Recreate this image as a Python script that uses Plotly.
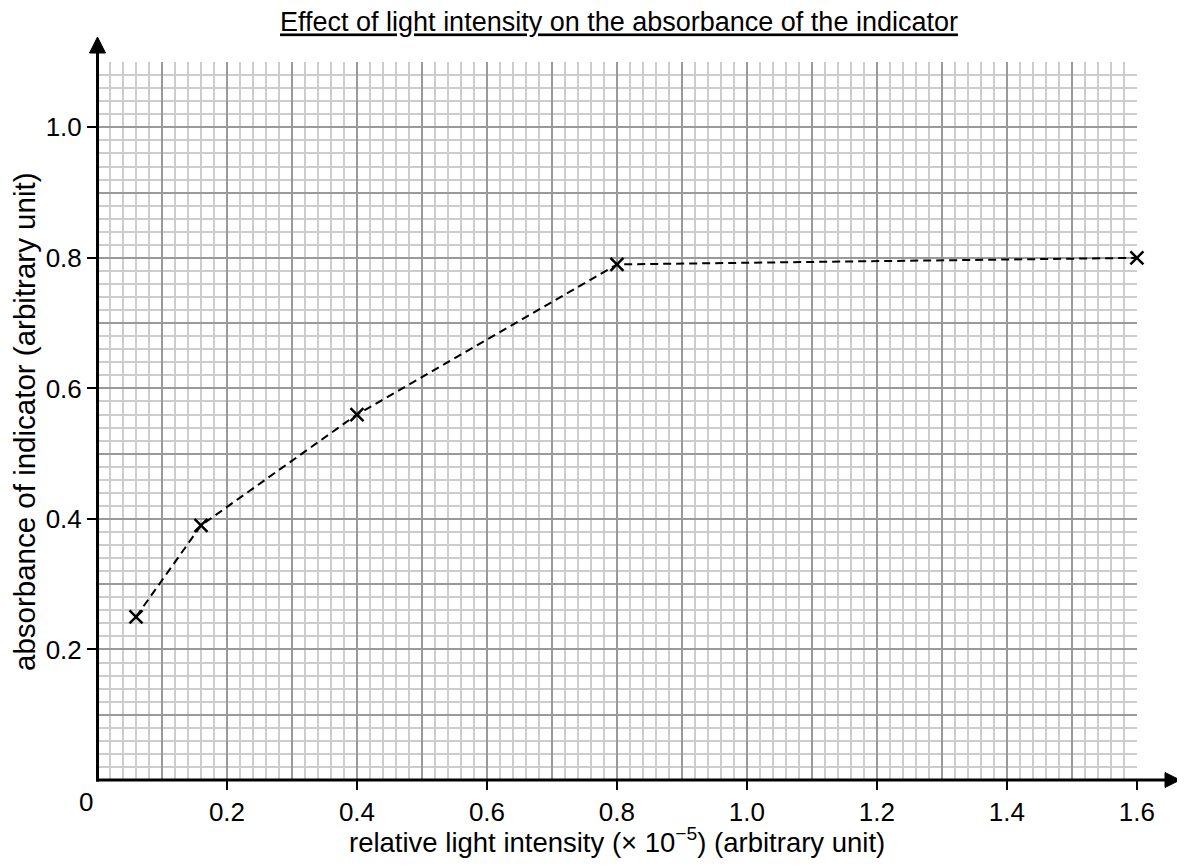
import plotly.graph_objects as go

# ---- data ----
intensity = [0.06, 0.16, 0.40, 0.80, 1.60]
absorbance = [0.25, 0.39, 0.56, 0.79, 0.80]
x_tick_vals = [0.2, 0.4, 0.6, 0.8, 1.0, 1.2, 1.4, 1.6]
x_tick_text = ["0.2", "0.4", "0.6", "0.8", "1.0", "1.2", "1.4", "1.6"]
y_tick_vals = [0.2, 0.4, 0.6, 0.8, 1.0]
y_tick_text = ["0.2", "0.4", "0.6", "0.8", "1.0"]
x_max, y_max = 1.6, 1.1

title = "Effect of light intensity on the absorbance of the indicator"
x_title = "relative light intensity (× 10<sup>−5</sup>) (arbitrary unit)"
y_title = "absorbance of indicator (arbitrary unit)"

# ---- layout geometry (page px; page has an 8px body margin) ----
OFF = 8
W, H = 1185 - 2 * OFF, 866 - 2 * OFF
P_LEFT, P_RIGHT, P_TOP, P_BOTTOM = 97, 1137, 62, 780   # plot area in page px
ML, MR = P_LEFT - OFF, W - (P_RIGHT - OFF)
MT, MB = P_TOP - OFF, H - (P_BOTTOM - OFF)
PW, PH = W - ML - MR, H - MT - MB
FONT = "Arial, 'Liberation Sans', sans-serif"
FS_TICK, FS_TITLE, FS_XAX, FS_YAX = 26, 27, 27.5, 29.5

def px_x(p):  # page pixel -> paper x
    return (p - P_LEFT) / PW

def px_y(p):  # page pixel -> paper y
    return (P_BOTTOM - p) / PH

MINOR = "#cdcdcd"
MAJOR = "#9a9a9a"
eps_x, eps_y = x_max * 1e-4, y_max * 1e-4

fig = go.Figure()
fig.add_trace(go.Scatter(x=[None], y=[None], xaxis="x", yaxis="y",
                         showlegend=False, hoverinfo="skip"))
fig.add_trace(go.Scatter(
    x=intensity, y=absorbance, xaxis="x2", yaxis="y2",
    mode="lines+markers",
    line=dict(color="black", width=2, dash="8px,5px"),
    marker=dict(symbol="x-thin", size=13, color="black",
                line=dict(color="black", width=2.5)),
    cliponaxis=False, showlegend=False,
))

def grid_axis(rmax):
    return dict(range=[0, rmax], tick0=0, dtick=0.1, showgrid=True,
                gridcolor=MAJOR, gridwidth=2, showticklabels=False, ticks="",
                zeroline=False, showline=False, fixedrange=True,
                minor=dict(tick0=0, dtick=0.02, showgrid=True, gridcolor=MINOR,
                           gridwidth=1.5, ticks=""))

def label_axis(rmax, over, anchor, side, vals, text):
    return dict(range=[0, rmax], overlaying=over, anchor=anchor, side=side,
                tickmode="array", tickvals=vals, ticktext=text,
                ticks="outside", ticklen=9, tickwidth=2, tickcolor="black",
                showgrid=False, zeroline=False, showline=False, fixedrange=True,
                tickfont=dict(family=FONT, size=FS_TICK, color="black"))

shapes = [
    dict(type="line", xref="paper", yref="paper",
         x0=px_x(P_LEFT + 0.5), y0=px_y(P_BOTTOM + 1.5),
         x1=px_x(P_LEFT + 0.5), y1=px_y(53),
         line=dict(color="black", width=3)),
    dict(type="line", xref="paper", yref="paper",
         x0=px_x(P_LEFT - 1), y0=0, x1=px_x(1166), y1=0,
         line=dict(color="black", width=3)),
    dict(type="path", xref="paper", yref="paper",
         path=f"M {px_x(P_LEFT + 0.5)} {px_y(37)} L {px_x(P_LEFT - 7.5)} {px_y(53)} "
              f"L {px_x(P_LEFT + 8.5)} {px_y(53)} Z",
         fillcolor="black", line=dict(color="black", width=1)),
    dict(type="path", xref="paper", yref="paper",
         path=f"M {px_x(1180)} 0 L {px_x(1165)} {px_y(P_BOTTOM - 7.5)} "
              f"L {px_x(1165)} {px_y(P_BOTTOM + 7.5)} Z",
         fillcolor="black", line=dict(color="black", width=1)),
]

annotations = [
    dict(text="0", xref="paper", yref="paper", x=px_x(86), y=px_y(802),
         showarrow=False, xanchor="center", yanchor="middle",
         font=dict(family=FONT, size=FS_TICK, color="black")),
    dict(text=x_title, xref="paper", yref="paper", x=px_x(617), y=px_y(840),
         showarrow=False, xanchor="center", yanchor="middle",
         font=dict(family=FONT, size=FS_XAX, color="black")),
    dict(text=y_title, xref="paper", yref="paper", x=px_x(24), y=px_y(422),
         showarrow=False, xanchor="center", yanchor="middle", textangle=-90,
         font=dict(family=FONT, size=FS_YAX, color="black")),
]

fig.update_layout(
    width=W, height=H,
    margin=dict(l=ML, r=MR, t=MT, b=MB),
    paper_bgcolor="white", plot_bgcolor="white",
    title=dict(text=f"<u>{title}</u>", x=px_x(619), xref="paper",
               y=1 - (22 - OFF) / H, yref="container",
               xanchor="center", yanchor="middle",
               font=dict(family=FONT, size=FS_TITLE, color="black")),
    xaxis=grid_axis(x_max + eps_x), yaxis=grid_axis(y_max + eps_y),
    xaxis2=label_axis(x_max + eps_x, "x", "y2", "bottom", x_tick_vals, x_tick_text),
    yaxis2=label_axis(y_max + eps_y, "y", "x2", "left", y_tick_vals, y_tick_text),
    shapes=shapes, annotations=annotations,
    showlegend=False,
)

fig.write_html("out.html")
